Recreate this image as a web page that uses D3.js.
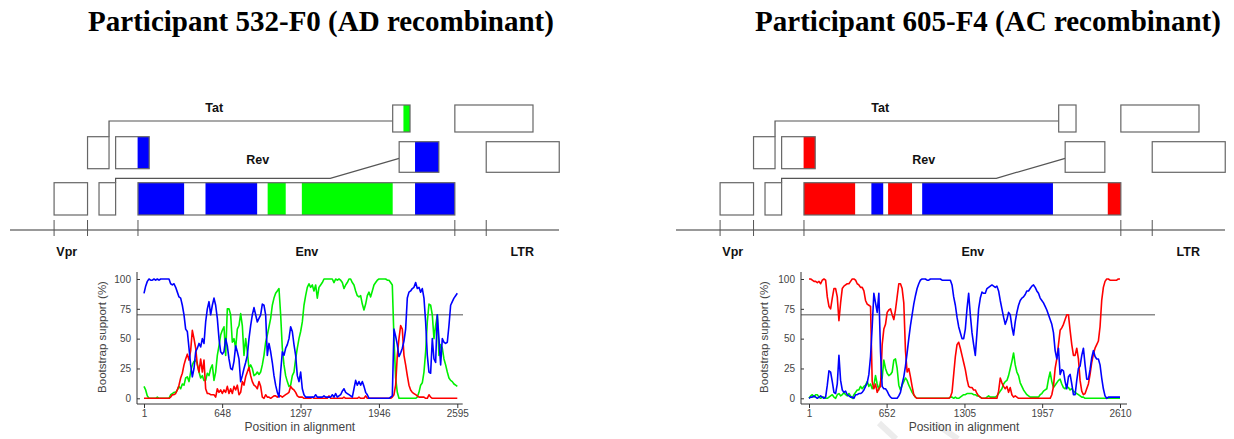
<!DOCTYPE html>
<html>
<head>
<meta charset="utf-8">
<title>Bootscan of recombinant participants</title>
<script src="https://d3js.org/d3.v7.min.js"></script>
<style>
body { margin: 0; background: #fff; }
.title { font-family: "Liberation Serif", "Times New Roman", serif; font-weight: bold; font-size: 29px; fill: #000; }
.gene-label { font-family: "Liberation Sans", Arial, sans-serif; font-weight: bold; font-size: 12.5px; fill: #111; }
.axis text { font-family: "Liberation Sans", Arial, sans-serif; font-size: 10px; fill: #444; }
.axis-title { font-family: "Liberation Sans", Arial, sans-serif; font-size: 11.5px; fill: #444; }
</style>
</head>
<body>
<svg id="chart" width="1234" height="439"></svg>
<script>
// ---- data ----
var titles = ["Participant 532-F0 (AD recombinant)", "Participant 605-F4 (AC recombinant)"];

// subtypes used as bootscan references
var subtypes = ["A", "C", "D"];
var subtypeColor = {A: "#0000ff", C: "#ff0000", D: "#00f000"};

// tick labels
var supportTicks = [0, 25, 50, 75, 100];
var threshold = 70;
var posTicks532 = [1, 648, 1297, 1946, 2595];
var posTicks605 = [1, 652, 1305, 1957, 2610];
var alnLength532 = 2595;
var alnLength605 = 2610;

// genome map (HXB2-like numbering)
var mapExtent = [5177, 9673];
var genes = [
  {name: "vpr",  start: 5538, end: 5812, row: "r3"},
  {name: "vpu",  start: 5906, end: 6042, row: "r3"},
  {name: "env",  start: 6225, end: 8820, row: "r3"},
  {name: "tat1", start: 5812, end: 5988, row: "r2"},
  {name: "rev1", start: 6042, end: 6317, row: "r2"},
  {name: "tat2", start: 8311, end: 8453, row: "r1"},
  {name: "rev2", start: 8364, end: 8689, row: "r2b"},
  {name: "nef",  start: 8820, end: 9460, row: "r1"},
  {name: "ltr",  start: 9077, end: 9675, row: "r2b"}
];
var mapTicks = [5538, 5812, 6225, 8820, 9077];
var mapLabels = [
  {text: "Tat", pos: 6850, place: "tat"},
  {text: "Rev", pos: 7205, place: "rev"},
  {text: "Vpr", pos: 5642, place: "axis"},
  {text: "Env", pos: 7608, place: "axis"},
  {text: "LTR", pos: 9372, place: "axis"}
];
// splice connectors: exon1 end -> exon2 start
var tatSplice = {from: 5988, to: 8311};
var revSplice = {from: 6042, bend: 7800, to: 8364};

// coloured regions inside the genes
var segments532 = [
  {gene: "env", from: 6226, to: 6603, subtype: "A"},
  {gene: "env", from: 6778, to: 7201, subtype: "A"},
  {gene: "env", from: 7287, to: 7435, subtype: "D"},
  {gene: "env", from: 7567, to: 8311, subtype: "D"},
  {gene: "env", from: 8494, to: 8820, subtype: "A"},
  {gene: "rev1", from: 6222, to: 6317, subtype: "A"},
  {gene: "rev2", from: 8494, to: 8689, subtype: "A"},
  {gene: "tat2", from: 8399, to: 8453, subtype: "D"}
];
var segments605 = [
  {gene: "env", from: 6225, to: 6644, subtype: "C"},
  {gene: "env", from: 6777, to: 6874, subtype: "A"},
  {gene: "env", from: 6914, to: 7110, subtype: "C"},
  {gene: "env", from: 7193, to: 8264, subtype: "A"},
  {gene: "env", from: 8713, to: 8820, subtype: "C"},
  {gene: "rev1", from: 6222, to: 6317, subtype: "C"}
];

// bootstrap support (%) along the alignment, evenly spaced windows
var a532 = [88,
  94,98,100,99,99,100,99,100,99,100,100,100,100,100,100,
  96,95,96,93,89,85,84,78,70,58,56,42,28,18,25,39,42,46,43,50,
  46,64,75,81,70,78,84,78,67,50,39,37,39,50,44,33,25,24,31,44,
  39,33,14,19,25,30,36,50,61,70,76,70,64,67,70,79,78,70,36,46,
  39,30,19,11,5,1,22,39,36,42,45,50,60,56,45,36,19,14,22,8,3,
  1,1,1,1,1,1,3,1,1,1,1,2,1,1,1,
  1,3,1,4,1,2,3,6,8,5,4,3,2,1,8,15,11,14,11,14,
  10,5,3,0,0,0,0,0,0,0,0,0,0,0,0,0,1,2,58,52,
  45,35,38,42,48,58,84,89,90,92,93,97,92,93,89,92,84,64,36,22,
  21,50,33,30,70,50,28,50,47,46,47,61,78,81,84,86,88];
var c532 = [0,
  0,0,0,0,0,0,0,0,0,0,0,0,0,0,0,
  1,3,3,4,7,11,17,21,28,33,37,32,40,57,50,42,28,22,33,22,
  32,8,4,4,3,3,3,1,8,5,7,4,7,5,10,4,8,4,10,7,
  11,3,5,14,11,18,22,26,19,14,11,10,8,14,10,1,0,3,1,1,
  0,1,2,2,1,2,2,1,2,3,4,5,10,8,7,5,2,1,1,1,0,
  0,0,0,0,1,0,0,0,0,0,0,0,0,0,2,
  0,0,0,0,0,0,0,0,1,0,0,0,0,0,0,0,0,1,0,0,
  0,2,0,0,0,0,0,0,0,0,0,0,0,0,0,0,0,1,3,11,
  36,50,61,58,36,28,19,11,7,5,4,3,2,1,1,1,1,0,0,3,
  1,0,0,0,0,0,0,0,0,0,0,0,0,0,0,0,0];
var d532 = [10,
  7,2,0,0,0,0,0,1,0,0,0,0,0,0,0,
  3,4,5,5,7,10,8,12,11,17,18,14,22,28,31,32,29,22,17,19,
  15,15,21,19,25,28,15,22,36,44,53,57,60,36,75,75,70,47,50,42,
  58,61,71,61,36,50,39,25,28,25,19,20,22,20,22,28,36,47,53,60,
  67,78,84,88,90,92,70,42,28,19,14,10,11,19,22,33,42,50,56,64,78,
  86,93,96,93,95,90,95,84,93,95,97,100,100,100,100,
  100,100,97,100,99,100,99,97,92,95,97,100,100,97,95,90,86,85,86,79,
  74,79,86,89,85,90,95,97,99,100,100,100,100,100,99,99,97,95,50,17,
  5,0,0,0,0,0,0,0,0,0,0,0,1,5,11,13,22,39,64,79,
  78,70,50,61,70,36,45,42,33,28,22,17,15,14,12,11,10];

var a605 = [
  0,1,1,2,1,0,1,2,1,0,1,11,23,22,14,5,4,12,36,
  15,7,5,6,3,2,1,1,0,3,3,4,4,5,7,10,13,20,35,
  60,88,80,72,88,39,10,8,8,6,3,1,0,0,0,0,2,5,12,
  18,27,38,50,61,70,79,86,92,96,99,100,100,100,99,99,100,100,100,
  100,100,100,100,99,99,99,99,99,99,95,85,78,68,60,55,50,50,
  58,75,88,70,55,45,36,55,75,84,89,88,88,92,93,94,95,94,93,
  94,90,82,75,68,62,66,72,70,60,53,64,72,78,82,84,85,87,90,
  90,92,94,95,93,90,88,84,82,80,77,74,70,66,62,55,40,33,42,
  20,24,23,14,8,18,20,12,3,3,15,25,27,36,42,28,16,16,24,
  34,40,35,33,33,28,17,8,2,0,1,1,1,1,1,1,1,1];
var c605 = [
  100,100,99,98,98,97,98,96,99,100,99,85,77,75,84,92,92,85,65,
  80,92,94,95,96,96,98,100,100,99,96,95,93,93,90,82,79,78,77,
  14,8,12,5,8,10,45,58,62,72,74,75,70,66,74,85,96,96,92,
  80,40,22,25,18,10,3,1,0,0,0,0,0,0,0,0,0,0,0,
  0,0,0,0,0,0,0,0,0,1,5,20,35,45,47,42,36,30,
  24,16,10,9,9,7,7,4,2,1,0,0,0,0,0,0,0,0,0,
  0,6,17,13,10,8,10,5,9,3,1,2,1,0,0,0,0,0,0,
  0,0,0,0,0,0,0,0,0,0,0,0,0,0,3,10,25,33,45,
  57,59,62,66,70,70,57,45,36,36,42,33,15,6,3,4,8,12,20,
  30,37,42,45,48,60,82,93,98,100,100,99,99,99,99,99,100,100];
var d605 = [
  0,2,3,1,3,3,1,0,1,1,0,0,1,2,3,1,0,3,4,
  2,3,5,3,2,4,2,0,3,5,7,7,10,8,10,11,14,10,12,
  8,11,19,12,7,14,17,32,25,21,19,20,22,32,33,25,11,7,11,
  14,17,15,11,8,5,3,1,0,0,0,0,0,0,0,0,0,0,0,
  0,0,0,0,0,0,0,0,0,1,1,0,1,0,0,1,2,3,
  3,4,4,4,4,3,3,2,2,1,0,0,0,1,2,1,1,1,1,
  2,4,6,8,12,14,15,19,25,31,38,28,22,19,13,10,7,5,3,
  2,1,1,1,1,1,1,3,4,6,7,8,16,22,14,9,11,13,15,
  16,12,9,8,10,9,7,8,6,5,4,3,2,1,1,0,0,0,0,
  0,0,0,0,0,0,0,0,0,0,0,0,0,0,0,0,0,0];

// ---- layout ----
var rows = {r1: [105, 132], r2: [136.7, 168.7], r2b: [141.7, 172.3], r3: [182.7, 215]};

var panels = [
  {title: titles[0], titleX: 321, mapRange: [10, 559],
   plot: {left: 137, right: 462.7, top: 272, bottom: 404, xr: [144, 457.3], thrEnd: 463, ytitleX: 101.5},
   len: alnLength532, ticks: posTicks532, segments: segments532,
   series: {A: a532, C: c532, D: d532}},
  {title: titles[1], titleX: 988, mapRange: [676, 1225],
   plot: {left: 801, right: 1127, top: 272, bottom: 404, xr: [809, 1120], thrEnd: 1155, ytitleX: 764},
   len: alnLength605, ticks: posTicks605, segments: segments605,
   series: {A: a605, C: c605, D: d605}}
];

var svg = d3.select("#chart");
var geneByName = {};
genes.forEach(function(g){ geneByName[g.name] = g; });

// faint watermark strokes near the bottom of the right panel (behind everything)
svg.append("g").selectAll("line")
  .data([[879, 423, 896, 439], [936, 424, 958, 439]])
  .enter().append("line")
  .attr("x1", function(d){ return d[0]; }).attr("y1", function(d){ return d[1]; })
  .attr("x2", function(d){ return d[2]; }).attr("y2", function(d){ return d[3]; })
  .attr("stroke", "#ececec").attr("stroke-width", 6);

panels.forEach(function(p){
  var g = svg.append("g");

  // title
  g.append("text")
    .attr("class", "title")
    .attr("x", p.titleX)
    .attr("y", 31)
    .attr("text-anchor", "middle")
    .text(p.title);

  // ---- genome map ----
  var gx = d3.scaleLinear().domain(mapExtent).range(p.mapRange);
  var map = g.append("g");

  // baseline and ticks
  map.append("line")
    .attr("x1", gx(mapExtent[0])).attr("x2", gx(mapExtent[1]))
    .attr("y1", 230).attr("y2", 230)
    .attr("stroke", "#777").attr("stroke-width", 1.4);
  map.selectAll(".mtick").data(mapTicks).enter()
    .append("line")
    .attr("x1", function(d){ return gx(d); }).attr("x2", function(d){ return gx(d); })
    .attr("y1", 220).attr("y2", 236)
    .attr("stroke", "#555").attr("stroke-width", 1);

  // splice connectors
  var tatLine = [[gx(tatSplice.from), rows.r2[0]], [gx(tatSplice.from), 121], [gx(tatSplice.to), 121]];
  var revLine = [[gx(revSplice.from), rows.r3[0]], [gx(revSplice.from), 178.3],
                 [gx(revSplice.bend), 178.3], [gx(revSplice.to), 158.3]];
  [tatLine, revLine].forEach(function(pts){
    map.append("path")
      .attr("d", d3.line()(pts))
      .attr("fill", "none")
      .attr("stroke", "#555").attr("stroke-width", 1.2);
  });

  // gene boxes
  map.selectAll(".gene").data(genes).enter()
    .append("rect")
    .attr("x", function(d){ return gx(d.start); })
    .attr("y", function(d){ return rows[d.row][0]; })
    .attr("width", function(d){ return gx(d.end) - gx(d.start); })
    .attr("height", function(d){ return rows[d.row][1] - rows[d.row][0]; })
    .attr("fill", "#fff");

  // coloured recombinant regions
  map.selectAll(".seg").data(p.segments).enter()
    .append("rect")
    .attr("x", function(d){ return gx(d.from); })
    .attr("y", function(d){ return rows[geneByName[d.gene].row][0]; })
    .attr("width", function(d){ return gx(d.to) - gx(d.from); })
    .attr("height", function(d){ var r = rows[geneByName[d.gene].row]; return r[1] - r[0]; })
    .attr("fill", function(d){ return d.subtype === "D" ? "#00ff00" : subtypeColor[d.subtype]; });

  // box outlines on top
  map.selectAll(".gene-outline").data(genes).enter()
    .append("rect")
    .attr("x", function(d){ return gx(d.start); })
    .attr("y", function(d){ return rows[d.row][0]; })
    .attr("width", function(d){ return gx(d.end) - gx(d.start); })
    .attr("height", function(d){ return rows[d.row][1] - rows[d.row][0]; })
    .attr("fill", "none")
    .attr("stroke", "#666").attr("stroke-width", 1.2);

  // labels
  var labelY = {tat: 112, rev: 163.5, axis: 256};
  map.selectAll(".gene-label").data(mapLabels).enter()
    .append("text")
    .attr("class", "gene-label")
    .attr("x", function(d){ return gx(d.pos); })
    .attr("y", function(d){ return labelY[d.place]; })
    .attr("text-anchor", "middle")
    .text(function(d){ return d.text; });

  // ---- bootscan plot ----
  var q = p.plot;
  var x = d3.scaleLinear().domain([1, p.len]).range(q.xr);
  var y = d3.scaleLinear().domain([0, 100]).range([398.3, 279]);
  var plot = g.append("g");

  // threshold line
  plot.append("line")
    .attr("x1", q.left).attr("x2", q.thrEnd)
    .attr("y1", y(threshold)).attr("y2", y(threshold))
    .attr("stroke", "#8a8a8a").attr("stroke-width", 1.5);

  // series lines
  var line = d3.line()
    .x(function(d){ return x(d[0]); })
    .y(function(d){ return y(d[1]); });
  ["D", "C", "A"].forEach(function(s){
    var vals = p.series[s];
    var step = (p.len - 1) / (vals.length - 1);
    var pts = vals.map(function(v, i){ return [1 + i * step, v]; });
    plot.append("path")
      .datum(pts)
      .attr("d", line)
      .attr("fill", "none")
      .attr("stroke", subtypeColor[s])
      .attr("stroke-width", 1.6)
      .attr("stroke-linejoin", "round");
  });

  // axes
  var yAxis = d3.axisLeft(y).tickValues(supportTicks).tickSize(-3).tickSizeOuter(0).tickPadding(6);
  var xAxis = d3.axisBottom(x).tickValues(p.ticks).tickSize(4).tickSizeOuter(0).tickPadding(2)
    .tickFormat(d3.format("d"));
  var ya = plot.append("g").attr("class", "axis").attr("transform", "translate(" + q.left + ",0)").call(yAxis);
  var xa = plot.append("g").attr("class", "axis").attr("transform", "translate(0," + q.bottom + ")").call(xAxis);
  ya.select(".domain").remove();
  xa.select(".domain").remove();
  plot.selectAll(".axis .tick line").attr("stroke", "#333");

  plot.append("path")
    .attr("d", d3.line()([[q.left, q.top], [q.left, q.bottom], [q.right, q.bottom]]))
    .attr("fill", "none")
    .attr("stroke", "#333").attr("stroke-width", 1);

  // axis titles
  plot.append("text")
    .attr("class", "axis-title")
    .attr("transform", "translate(" + q.ytitleX + "," + 337 + ") rotate(-90)")
    .attr("text-anchor", "middle")
    .attr("dy", "0.35em")
    .text("Bootstrap support (%)");
  plot.append("text")
    .attr("class", "axis-title")
    .attr("x", (q.left + q.right) / 2)
    .attr("y", 431)
    .attr("text-anchor", "middle")
    .style("font-size", "12px")
    .text("Position in alignment");
});
</script>
</body>
</html>
